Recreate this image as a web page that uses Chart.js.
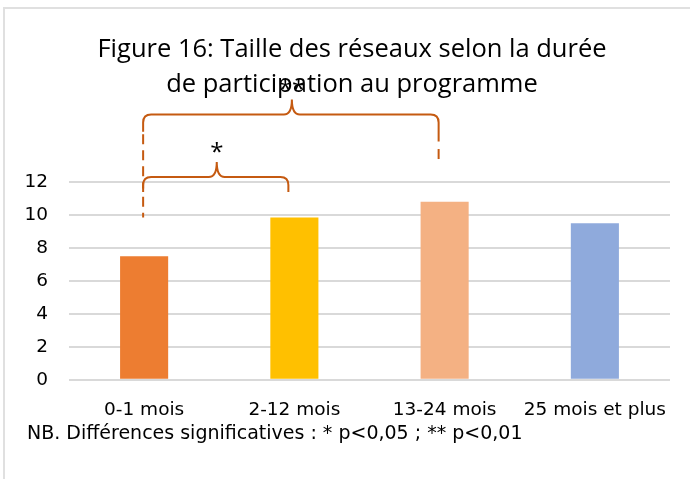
<!DOCTYPE html>
<html>
<head>
<meta charset="utf-8">
<script src="https://cdn.jsdelivr.net/npm/chart.js@4"></script>
<style>
  body { margin: 0; background: #fff; }
  #wrap { position: relative; width: 690px; height: 479px; overflow: hidden; }
  #frame { position: absolute; left: 3px; top: 7px; width: 720px; height: 520px; border: 2px solid #e0e0e0; }
  #wrap canvas { position: absolute; left: 0; top: 0; }
</style>
</head>
<body>
<div id="wrap">
  <div id="frame"></div>
  <canvas id="myChart" width="690" height="479"></canvas>
</div>
<script>
// chart data
const categories = ["0-1 mois", "2-12 mois", "13-24 mois", "25 mois et plus"]
const values = [7.5, 9.85, 10.8, 9.5]
const barColors = ["#ED7D31", "#FFC000", "#F4B183", "#8FAADC"]
const titleLines = ["Figure 16: Taille des réseaux selon la durée", "de participation au programme"]
const footnote = "NB. Différences significatives : * p<0,05 ; ** p<0,01"
// significant pairs (category indexes)
const comparisons = [
    {from: 0, to: 1, label: "*"},
    {from: 0, to: 2, label: "**"},
]

const tickFont = {family: "DejaVu Sans", size: 18.5}

// how each brace sits, in y-axis units
const braceStyle = [
    {level: 12.3, dropL: 11.4, dropR: 11.4, dashL: [11.1, 9.85], dashR: null, labelOff: 29},
    {level: 16.1, dropL: 15.05, dropR: 14.45, dashL: [14.9, 11.6], dashR: [14.0, 13.35], labelOff: 29},
]

function drawBrace(ctx, xl, xr, yH, yL, yR, peak) {
    const r = 8
    const xm = (xl + xr) / 2 + 1
    ctx.beginPath()
    ctx.moveTo(xl, yL)
    ctx.lineTo(xl, yH + r)
    ctx.quadraticCurveTo(xl, yH, xl + r, yH)
    ctx.lineTo(xm - r, yH)
    ctx.quadraticCurveTo(xm, yH, xm, yH - peak)
    ctx.quadraticCurveTo(xm, yH, xm + r, yH)
    ctx.lineTo(xr - r, yH)
    ctx.quadraticCurveTo(xr, yH, xr, yH + r)
    ctx.lineTo(xr, yR)
    ctx.stroke()
    return xm
}

const bracePlugin = {
    id: "braces",
    afterLayout(chart) {
        // the title in the original is centred a bit right of the canvas middle
        chart.titleBlock.left = 34
    },
    afterDraw(chart) {
        const {ctx, scales: {x, y}} = chart
        ctx.save()
        ctx.strokeStyle = "#C55A11"
        ctx.lineWidth = 2
        ctx.lineCap = "butt"
        comparisons.forEach((c, i) => {
            const s = braceStyle[i]
            const xl = x.getPixelForValue(c.from) - 1
            const xr = x.getPixelForValue(c.to) - 6
            ctx.setLineDash([])
            const xm = drawBrace(ctx, xl, xr, y.getPixelForValue(s.level),
                y.getPixelForValue(s.dropL), y.getPixelForValue(s.dropR), 15)
            ctx.setLineDash([10, 6])
            if (s.dashL) {
                ctx.beginPath()
                ctx.moveTo(xl, y.getPixelForValue(s.dashL[0]))
                ctx.lineTo(xl, y.getPixelForValue(s.dashL[1]))
                ctx.stroke()
            }
            if (s.dashR) {
                ctx.beginPath()
                ctx.moveTo(xr, y.getPixelForValue(s.dashR[0]))
                ctx.lineTo(xr, y.getPixelForValue(s.dashR[1]))
                ctx.stroke()
            }
            ctx.fillStyle = "#000"
            ctx.font = "24px 'Open Sans'"
            ctx.textAlign = "center"
            ctx.textBaseline = "middle"
            ctx.fillText(c.label, xm, y.getPixelForValue(s.level) - s.labelOff + 5)
        })
        // footnote under the axis
        ctx.setLineDash([])
        ctx.fillStyle = "#000"
        ctx.font = "19px 'DejaVu Sans'"
        ctx.textAlign = "left"
        ctx.textBaseline = "middle"
        ctx.fillText(footnote, 27, chart.chartArea.bottom + 54)
        ctx.restore()
    }
}

new Chart(document.querySelector("#myChart"), {
    type: "bar",
    data: {
        labels: categories,
        datasets: [{
            data: values,
            backgroundColor: barColors,
            categoryPercentage: 1,
            barPercentage: 0.32,
        }]
    },
    options: {
        responsive: false,
        animation: false,
        layout: {padding: {top: 0, right: 20, bottom: 39, left: 0}},
        plugins: {
            legend: {display: false},
            tooltip: {enabled: false},
            title: {
                display: true,
                text: titleLines,
                color: "#000",
                font: {family: "Open Sans", size: 25.5, weight: "normal", lineHeight: 35 / 25.5},
                padding: {top: 32.5, bottom: 79.5},
            },
        },
        scales: {
            x: {
                grid: {display: false, drawTicks: false},
                border: {display: false},
                ticks: {color: "#000", font: tickFont, padding: 19},
            },
            y: {
                min: 0,
                max: 12,
                ticks: {stepSize: 2, color: "#000", font: tickFont, padding: 21},
                grid: {color: "#D9D9D9", lineWidth: 2, drawTicks: false},
                border: {display: false},
                afterFit: (scale) => { scale.width = 69 },
            }
        }
    },
    plugins: [bracePlugin]
})
</script>
</body>
</html>
